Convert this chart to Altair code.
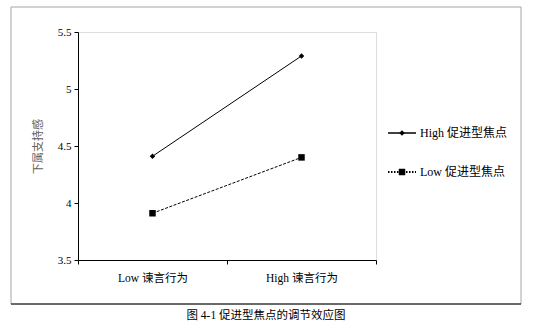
import altair as alt
import pandas as pd

# ---- data ----
categories = ["Low 谏言行为", "High 谏言行为"]
series_names = ["High 促进型焦点", "Low 促进型焦点"]
high_values = [4.41, 5.29]
low_values = [3.91, 4.40]
y_ticks = [3.5, 4.0, 4.5, 5.0, 5.5]
y_title = "下属支持感"
caption = "图 4-1 促进型焦点的调节效应图"

rows = []
for c, v in zip(categories, high_values):
    rows.append({"cat": c, "value": v, "series": series_names[0]})
for c, v in zip(categories, low_values):
    rows.append({"cat": c, "value": v, "series": series_names[1]})
df = pd.DataFrame(rows)

SERIF = "Liberation Serif, Noto Sans CJK SC"
W, H = 298, 228
PAD_L, PAD_T = 78, 32

x_enc = alt.X(
    "cat:N",
    sort=categories,
    scale=alt.Scale(type="band", paddingInner=0, paddingOuter=0),
    axis=alt.Axis(
        title=None, labelAngle=0, tickBand="extent", tickSize=4,
        domainColor="#000000", tickColor="#000000", labelFont=SERIF,
        labelFontSize=11.5, labelColor="#000000", labelPadding=8,
    ),
)
y_enc = alt.Y(
    "value:Q",
    scale=alt.Scale(domain=[3.5, 5.5], nice=False, zero=False),
    axis=alt.Axis(
        values=y_ticks, format=".1~f", title=y_title, grid=False, tickSize=4,
        domainColor="#000000", tickColor="#000000", labelFont=SERIF,
        labelFontSize=11, labelColor="#000000", labelPadding=3,
        titleFont=SERIF, titleFontSize=11, titleFontWeight="normal",
        titleColor="#606060", titlePadding=14,
    ),
)

base = alt.Chart(df)

high = base.transform_filter(alt.datum.series == series_names[0])
low = base.transform_filter(alt.datum.series == series_names[1])

high_line = high.mark_line(color="black", strokeWidth=1).encode(x=x_enc, y=y_enc)
high_pts = high.mark_point(shape="diamond", filled=True, color="black", size=30, opacity=1).encode(x=x_enc, y=y_enc)
low_line = low.mark_line(color="black", strokeWidth=1, strokeDash=[3, 1.5]).encode(x=x_enc, y=y_enc)
low_pts = low.mark_point(shape="square", filled=True, color="black", size=42, opacity=1).encode(x=x_enc, y=y_enc)

one = alt.Chart(pd.DataFrame({"k": [0]}))

# outer frame (relative to plot origin)
frame = one.mark_rect(fill=None, stroke="#a6a6a6", strokeWidth=1).encode(
    x=alt.value(11 - PAD_L), x2=alt.value(521 - PAD_L),
    y=alt.value(7 - PAD_T), y2=alt.value(304 - PAD_T),
)
frame_bottom = one.mark_rule(color="#000000", strokeWidth=1).encode(
    x=alt.value(11 - PAD_L), x2=alt.value(521 - PAD_L),
    y=alt.value(304 - PAD_T),
)

# manual legend
leg_x0, leg_x1, leg_xm, leg_tx = 388 - PAD_L, 416 - PAD_L, 402 - PAD_L, 420 - PAD_L
leg_y = [133 - PAD_T, 172 - PAD_T]
leg_high_line = one.mark_rule(color="black", strokeWidth=1.5).encode(
    x=alt.value(leg_x0), x2=alt.value(leg_x1), y=alt.value(leg_y[0]))
leg_high_pt = one.mark_point(shape="diamond", filled=True, color="black", size=30, opacity=1).encode(
    x=alt.value(leg_xm), y=alt.value(leg_y[0]))
leg_low_line = one.mark_rule(color="black", strokeWidth=2, strokeDash=[1.5, 1.5]).encode(
    x=alt.value(leg_x0), x2=alt.value(leg_x1), y=alt.value(leg_y[1]))
leg_low_pt = one.mark_point(shape="square", filled=True, color="black", size=42, opacity=1).encode(
    x=alt.value(leg_xm), y=alt.value(leg_y[1]))
leg_text_high = one.mark_text(align="left", baseline="middle", font=SERIF, fontSize=12, color="black").encode(
    x=alt.value(leg_tx), y=alt.value(leg_y[0]), text=alt.value(series_names[0]))
leg_text_low = one.mark_text(align="left", baseline="middle", font=SERIF, fontSize=12, color="black").encode(
    x=alt.value(leg_tx), y=alt.value(leg_y[1]), text=alt.value(series_names[1]))

cap = one.mark_text(align="center", baseline="middle", font=SERIF, fontSize=11.5, color="black").encode(
    x=alt.value(266 - PAD_L), y=alt.value(316 - PAD_T), text=alt.value(caption))

chart = alt.layer(
    frame, frame_bottom,
    low_line, high_line, low_pts, high_pts,
    leg_high_line, leg_high_pt, leg_low_line, leg_low_pt, leg_text_high, leg_text_low,
    cap,
).properties(
    width=W, height=H,
    autosize="none",
    padding={"left": PAD_L, "top": PAD_T, "right": 544 - PAD_L - W, "bottom": 327 - PAD_T - H},
).configure_view(
    stroke="#808080", strokeWidth=1,
).configure(background="white")

chart.save("out.html", embed_options={"renderer": "svg", "actions": False})
